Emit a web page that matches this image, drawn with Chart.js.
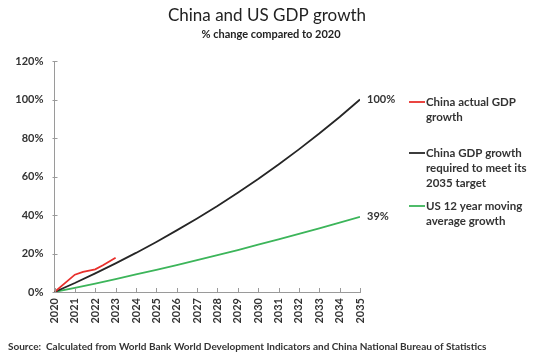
<!DOCTYPE html>
<html>
<head>
<meta charset="utf-8">
<script src="https://cdn.jsdelivr.net/npm/chart.js@4"></script>
<style>
html,body{margin:0;padding:0;background:#fff;}
#wrap{width:540px;height:357px;position:relative;}
</style>
</head>
<body>
<div id="wrap"><canvas id="c" width="540" height="357"></canvas></div>
<script>
const years = [2020,2021,2022,2023,2024,2025,2026,2027,2028,2029,2030,2031,2032,2033,2034,2035];
const chinaRequired = [0,4.7,9.7,14.9,20.3,26.0,32.0,38.2,44.7,51.6,58.7,66.2,74.1,82.3,90.9,100];
const usGrowth = [0,2.2,4.4,6.7,9.1,11.5,14.0,16.5,19.1,21.8,24.6,27.3,30.2,33.1,36.0,39];
const chinaActualX = [2020,2021,2021.4,2022,2022.4,2023];
const chinaActual = [0,9.0,10.4,11.8,14.0,17.8];
const yTicks = [0,20,40,60,80,100,120];
const seriesNames = [["China actual GDP","growth"],["China GDP growth","required to meet its","2035 target"],["US 12 year moving","average growth"]];
const seriesColors = ["#e8302c","#262626","#3cb55a"];
const titleText = "China and US GDP growth";
const subtitleText = "% change compared to 2020";
const sourceText = "Source:  Calculated from World Bank World Development Indicators and China National Bureau of Statistics";

const FONT = "Lato, 'Open Sans', sans-serif";
const TXT = "#333333";

const toPts = (xs, ys) => xs.map((x,i)=>({x:x,y:ys[i]}));

const decor = {
  id:'decor',
  afterDraw(chart){
    const ctx = chart.ctx;
    const xs = chart.scales.x, ys = chart.scales.y;
    ctx.save();
    ctx.strokeStyle = '#9a9a9a'; ctx.lineWidth = 1;
    years.forEach(y=>{
      const px = Math.round(xs.getPixelForValue(y))+0.5;
      ctx.beginPath(); ctx.moveTo(px, ys.bottom); ctx.lineTo(px, ys.bottom-4); ctx.stroke();
    });
    yTicks.forEach(v=>{
      const py = Math.round(ys.getPixelForValue(v))+0.5;
      ctx.beginPath(); ctx.moveTo(xs.left-2, py); ctx.lineTo(xs.left+3, py); ctx.stroke();
    });
    ctx.fillStyle = '#222';
    ctx.textAlign = 'center'; ctx.textBaseline = 'middle';
    ctx.font = "17px " + FONT;
    ctx.fillText(titleText, 267, 16);
    ctx.font = "bold 11px " + FONT;
    ctx.fillText(subtitleText, 271, 34);
    ctx.textAlign = 'left';
    ctx.font = "bold 10px " + FONT;
    ctx.fillStyle = TXT;
    ctx.fillText(sourceText, 8, 347);
    ctx.font = "bold 11px " + FONT;
    const lastIdx = years.length-1;
    ctx.fillText(Math.round(chinaRequired[lastIdx]) + "%", 367, ys.getPixelForValue(chinaRequired[lastIdx]));
    ctx.fillText(Math.round(usGrowth[lastIdx]) + "%", 367, ys.getPixelForValue(usGrowth[lastIdx]));
    const legY = [102, 153, 206];
    ctx.font = "bold 11.5px " + FONT;
    seriesNames.forEach((lines, i)=>{
      ctx.strokeStyle = seriesColors[i]; ctx.lineWidth = 1.8;
      ctx.beginPath(); ctx.moveTo(409, legY[i]); ctx.lineTo(425, legY[i]); ctx.stroke();
      ctx.fillStyle = TXT;
      lines.forEach((t, j)=>{ ctx.fillText(t, 426, legY[i] + j*15); });
    });
    ctx.restore();
  }
};

new Chart(document.getElementById('c'), {
  type:'line',
  data:{
    datasets:[
      {label:seriesNames[0].join(' '), data:toPts(chinaActualX, chinaActual), borderColor:seriesColors[0], borderWidth:1.8, pointRadius:0, tension:0},
      {label:seriesNames[1].join(' '), data:toPts(years, chinaRequired), borderColor:seriesColors[1], borderWidth:1.8, pointRadius:0, tension:0},
      {label:seriesNames[2].join(' '), data:toPts(years, usGrowth), borderColor:seriesColors[2], borderWidth:1.8, pointRadius:0, tension:0}
    ]
  },
  options:{
    responsive:false,
    animation:false,
    layout:{padding:{left:0, right:180, top:61, bottom:0}},
    plugins:{legend:{display:false}, tooltip:{enabled:false}, title:{display:false}},
    scales:{
      x:{
        type:'linear', min:2020, max:2035,
        afterFit(s){ s.height = 357-292; },
        grid:{display:false, drawTicks:false},
        border:{display:true, color:'#9a9a9a', width:1},
        ticks:{stepSize:1, autoSkip:false, minRotation:90, maxRotation:90, padding:6, color:TXT,
               font:{family:FONT, size:11, weight:'bold'}, callback:v=>String(v)}
      },
      y:{
        min:0, max:120,
        afterFit(s){ s.width = 54.5; },
        afterBuildTicks(s){ s.ticks = yTicks.map(v=>({value:v})); },
        grid:{display:false, drawTicks:false},
        border:{display:true, color:'#9a9a9a', width:1},
        ticks:{padding:11, color:TXT, font:{family:FONT, size:11, weight:'bold'}, callback:v=>v+'%'}
      }
    }
  },
  plugins:[decor]
});
</script>
</body>
</html>
